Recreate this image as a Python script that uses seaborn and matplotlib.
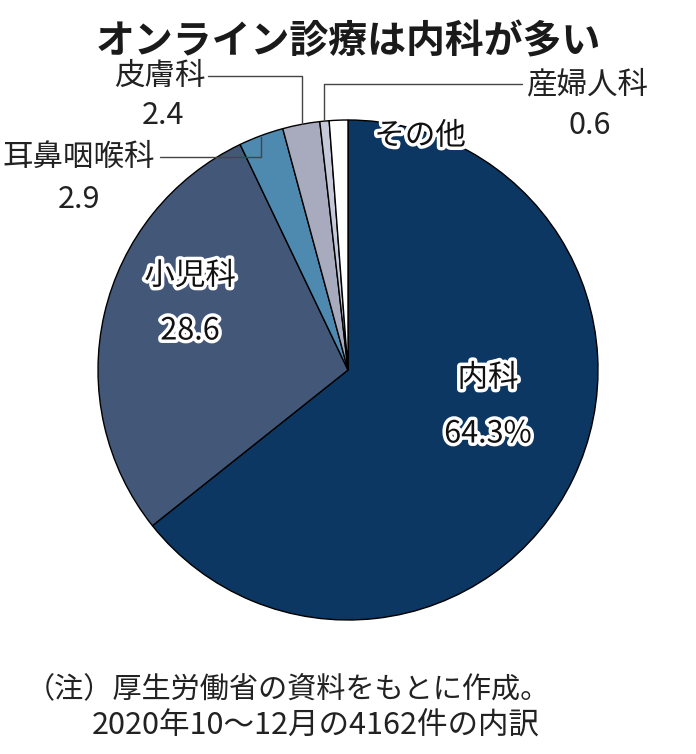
import matplotlib.pyplot as plt
import matplotlib.patheffects as pe
import seaborn as sns

# =============================================================
# data
# =============================================================
labels = ['内科', '小児科', '耳鼻咽喉科', '皮膚科', '産婦人科', 'その他']
shares = [64.3, 28.6, 2.9, 2.4, 0.6, 1.2]
colors = ['#0d3763', '#435878', '#4e8ab0', '#a8abbe', '#c6c9d9', '#ffffff']

title = 'オンライン診療は内科が多い'
note1 = '（注）厚生労働省の資料をもとに作成。'
note2 = '2020年10～12月の4162件の内訳'

# =============================================================
# figure
# =============================================================
sns.set_theme(style='white')
plt.rcParams['font.family'] = ['Noto Sans CJK JP', 'DejaVu Sans']

W, H = 696, 754
fig = plt.figure(figsize=(W / 100, H / 100), dpi=100)
cx, cy, R = 348, 370, 250
ax = fig.add_axes([(cx - R) / W, (H - cy - R) / H, 2 * R / W, 2 * R / H])

ax.pie(shares, colors=colors, startangle=90, counterclock=False,
       wedgeprops=dict(edgecolor='black', linewidth=1.0))
ax.set_xlim(-1, 1)
ax.set_ylim(-1, 1)
ax.set_aspect('equal')
ax.axis('off')


def px(x, y):
    # pixel position -> pie data coords
    return (x - cx) / R, (cy - y) / R


stroke = [pe.withStroke(linewidth=5, foreground='white')]
fs = 22

# inside labels
for (x, y), s in [((488, 378), '内科'), ((488, 434), '64.3%'),
                  ((190, 276), '小児科'), ((190, 331), '28.6'),
                  ((420, 136), 'その他')]:
    ax.text(*px(x, y), s, ha='center', va='center', fontsize=fs,
            color='#111111', path_effects=stroke, clip_on=False)

# outside labels
ax.text(*px(160, 76), '皮膚科', ha='center', va='center', fontsize=fs, color='#222222')
ax.text(*px(163, 116), '2.4', ha='center', va='center', fontsize=fs, color='#222222')
ax.text(*px(79, 157), '耳鼻咽喉科', ha='center', va='center', fontsize=fs, color='#222222')
ax.text(*px(79, 200), '2.9', ha='center', va='center', fontsize=fs, color='#222222')
ax.text(*px(588, 85), '産婦人科', ha='center', va='center', fontsize=fs, color='#222222')
ax.text(*px(590, 125), '0.6', ha='center', va='center', fontsize=fs, color='#222222')

# leader lines
for pts in [[(208, 76), (302, 76), (302, 124)],
            [(160, 157), (261, 157), (261, 137)],
            [(324, 121), (324, 84), (522, 84)]]:
    xs, ys = zip(*[px(x, y) for x, y in pts])
    ax.plot(xs, ys, color='#444444', lw=1.0, clip_on=False)

fig.text(348 / W, 1 - 42 / H, title, ha='center', va='center',
         fontsize=28, fontweight='bold', color='#1a1a1a')
fig.text(26 / W, 1 - 690 / H, note1, ha='left', va='center', fontsize=21, color='#222222')
fig.text(92 / W, 1 - 726 / H, note2, ha='left', va='center', fontsize=22, color='#222222')

fig.savefig('out.png', dpi=100)
